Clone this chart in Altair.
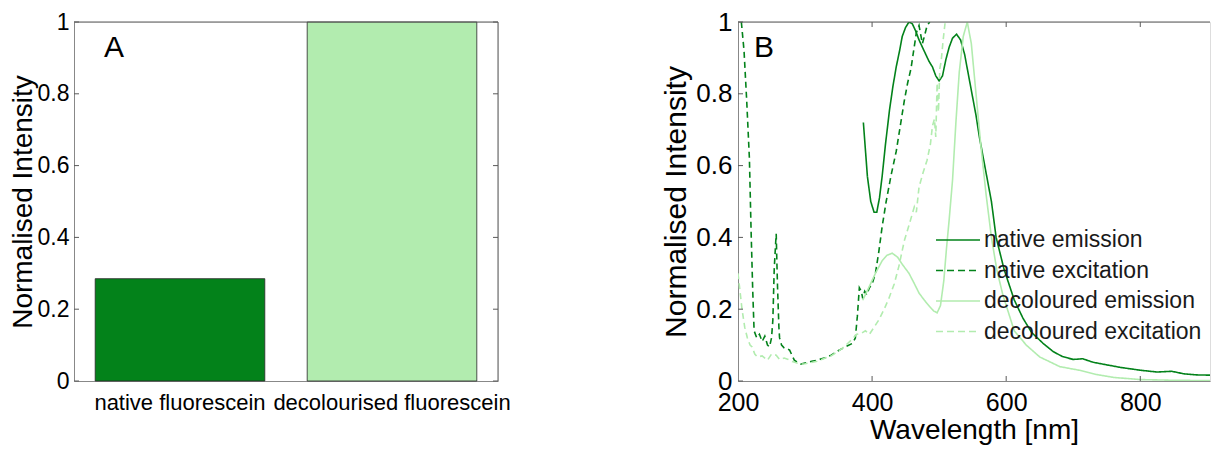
import altair as alt
import pandas as pd

FONT = "Liberation Sans"
TXT = "#262626"
AXC = "#5a5a5a"
DARK = "#03821a"
LIGHT = "#b2ecaf"

# ---------------- Panel A data ----------------
bar_categories = ["native fluorescein", "decolourised fluorescein"]
bar_values = [0.285, 1.0]
bar_colors = [DARK, LIGHT]

# ---------------- Panel B data ----------------
nat_em_nm = [387, 393, 398, 403, 407, 411, 415, 420, 426, 431, 436, 441, 445, 450, 455,
             460, 465, 470, 475, 480, 485, 490, 495, 500, 505, 510, 515, 520, 526, 532,
             538, 545, 550, 555, 560, 565, 570, 578, 585, 597, 612, 625, 638, 655, 670,
             684, 700, 714, 730, 750, 770, 800, 825, 847, 865, 884, 913]
nat_em_int = [0.72, 0.57, 0.50, 0.47, 0.47, 0.51, 0.57, 0.66, 0.755, 0.82, 0.875, 0.92, 0.96, 0.985, 1.0,
              0.995, 0.975, 0.95, 0.93, 0.91, 0.89, 0.875, 0.85, 0.836, 0.85, 0.895, 0.93, 0.955, 0.966, 0.95,
              0.91, 0.84, 0.79, 0.74, 0.68, 0.63, 0.58, 0.50, 0.40, 0.31, 0.226, 0.175, 0.135, 0.105, 0.082,
              0.068, 0.06, 0.062, 0.052, 0.045, 0.038, 0.03, 0.025, 0.027, 0.02, 0.017, 0.016]

nat_ex_nm = [205, 209, 213, 217, 219.5, 222, 224, 228, 232, 236, 240, 244, 247, 250, 252,
             254, 256, 257, 258, 259, 261, 262, 265, 269, 273, 277, 281, 284, 290, 294,
             300, 310, 318, 330, 339, 350, 360, 371, 375, 378, 381, 384, 386, 389, 392,
             396, 400, 405, 410, 415, 421, 428, 436, 442, 448, 453, 458, 462, 466, 470,
             473, 475, 478, 482, 486]
nat_ex_int = [1.0, 0.92, 0.78, 0.62, 0.42, 0.25, 0.14, 0.12, 0.13, 0.11, 0.125, 0.10, 0.095, 0.12, 0.17,
              0.31, 0.38, 0.41, 0.33, 0.26, 0.15, 0.12, 0.10, 0.092, 0.09, 0.086, 0.07, 0.058, 0.05, 0.047,
              0.05, 0.055, 0.058, 0.065, 0.072, 0.085, 0.095, 0.105, 0.12, 0.18, 0.26, 0.25, 0.23, 0.25, 0.24,
              0.26, 0.27, 0.30, 0.36, 0.43, 0.50, 0.57, 0.64, 0.71, 0.78, 0.83, 0.87, 0.92, 0.97, 0.99,
              0.96, 0.94, 0.96, 0.99, 1.0]

dec_em_nm = [386, 395, 405, 415, 422, 430, 438, 445, 455, 462, 470, 478, 486, 492, 497,
             502, 507, 511, 515, 520, 525, 530, 536, 542, 548, 555, 562, 570, 578, 586,
             595, 612, 630, 650, 680, 709, 735, 760, 800, 850, 913]
dec_em_int = [0.225, 0.26, 0.30, 0.335, 0.35, 0.356, 0.345, 0.325, 0.30, 0.275, 0.245, 0.225, 0.207, 0.195, 0.19,
              0.21, 0.28, 0.37, 0.45, 0.56, 0.72, 0.86, 0.96, 1.0, 0.94, 0.80, 0.66, 0.52, 0.40, 0.31,
              0.24, 0.14, 0.10, 0.067, 0.04, 0.03, 0.018, 0.01, 0.004, 0.002, 0.001]

dec_ex_nm = [200, 203, 206, 210, 214, 218, 221, 225, 229, 236, 244, 250, 257, 262, 269,
             275, 281, 288, 294, 300, 318, 339, 355, 369, 377, 384, 390, 396, 403, 410,
             418, 425, 433, 440, 448, 456, 463, 466, 470, 476, 482, 487, 490, 493, 495,
             497, 499, 501, 503, 506, 509]
dec_ex_int = [0.30, 0.25, 0.20, 0.15, 0.12, 0.10, 0.095, 0.075, 0.067, 0.07, 0.058, 0.075, 0.072, 0.06, 0.064,
              0.06, 0.054, 0.05, 0.047, 0.048, 0.055, 0.07, 0.09, 0.114, 0.13, 0.133, 0.14, 0.13, 0.15, 0.17,
              0.20, 0.23, 0.27, 0.32, 0.39, 0.44, 0.485, 0.47, 0.54, 0.58, 0.615, 0.66, 0.71, 0.73, 0.68,
              0.83, 0.75, 0.87, 0.89, 0.95, 1.0]

series_names = ["native emission", "native excitation", "decoloured emission", "decoloured excitation"]
series_colors = [DARK, DARK, LIGHT, LIGHT]
series_dash = [[1, 0], [6, 4], [1, 0], [6, 4]]
legend_dash = [[1, 0], [7, 4], [1, 0], [7, 4]]

y_ticks = [0, 0.2, 0.4, 0.6, 0.8, 1.0]
x_ticks_b = [200, 400, 600, 800]
x_domain_b = [200, 904]

# ---------------- build tables ----------------
df_bar = pd.DataFrame({"category": bar_categories, "value": bar_values})

rows = []
for name, xs, ys in zip(series_names,
                        [nat_em_nm, nat_ex_nm, dec_em_nm, dec_ex_nm],
                        [nat_em_int, nat_ex_int, dec_em_int, dec_ex_int]):
    for i, (xv, yv) in enumerate(zip(xs, ys)):
        rows.append({"nm": xv, "intensity": yv, "series": name, "idx": i})
df_lines = pd.DataFrame(rows)

df_yt = pd.DataFrame({"v": y_ticks})
df_xt = pd.DataFrame({"v": x_ticks_b[1:]})
one = pd.DataFrame({"t": ["x"]})

WA, HA = 424, 359
WB, HB = 472, 359
TICK = 5

yscale = alt.Scale(domain=[0, 1], nice=False, zero=False)
xscaleB = alt.Scale(domain=x_domain_b, nice=False, zero=False)

# ---------------- Panel A ----------------
yA = alt.Y("value:Q", scale=yscale,
           axis=alt.Axis(values=y_ticks, format="~g", title="Normalised Intensity",
                         labelFontSize=23, titleFontSize=28, labelPadding=5, titlePadding=0,
                         labelFlush=False, titleFontWeight="normal", ticks=False, grid=False))
bars = alt.Chart(df_bar).mark_bar(stroke="#262626", strokeWidth=0.8).encode(
    x=alt.X("category:N", sort=bar_categories,
            scale=alt.Scale(paddingInner=0.2, paddingOuter=0.1),
            axis=alt.Axis(title=None, labelAngle=0, ticks=False, labelFontSize=22,
                          labelPadding=11, labelLimit=400, grid=False)),
    y=yA,
    color=alt.Color("category:N", scale=alt.Scale(domain=bar_categories, range=bar_colors),
                    legend=None),
)
a_top = alt.Chart(one).mark_rule(color=AXC, strokeWidth=1).encode(y=alt.value(0))
a_right = alt.Chart(one).mark_rule(color=AXC, strokeWidth=1).encode(x=alt.value(WA))
a_lt = alt.Chart(df_yt).mark_rule(color=AXC, strokeWidth=1).encode(
    y=alt.Y("v:Q", scale=yscale), x=alt.value(0), x2=alt.value(TICK))
a_rt = alt.Chart(df_yt).mark_rule(color=AXC, strokeWidth=1).encode(
    y=alt.Y("v:Q", scale=yscale), x=alt.value(WA - TICK), x2=alt.value(WA))
a_lab = alt.Chart(one).mark_text(text="A", fontSize=30, font=FONT, color="black",
                                 align="center", baseline="middle").encode(
    x=alt.value(40), y=alt.value(26))
panelA = alt.layer(bars, a_lt, a_rt, a_top, a_right, a_lab).properties(width=WA, height=HA)

# ---------------- Panel B ----------------
lines = alt.Chart(df_lines).mark_line(strokeWidth=1.6, clip=True).encode(
    x=alt.X("nm:Q", scale=xscaleB,
            axis=alt.Axis(values=x_ticks_b, format="d", title="Wavelength [nm]",
                          labelFontSize=25, titleFontSize=28, labelPadding=9, titlePadding=1,
                          labelFlush=False, titleFontWeight="normal", ticks=False, grid=False)),
    y=alt.Y("intensity:Q", scale=yscale,
            axis=alt.Axis(values=y_ticks, format="~g", title="Normalised Intensity",
                          labelFontSize=26, titleFontSize=30, labelPadding=6, titlePadding=4,
                          labelFlush=False, titleFontWeight="normal", ticks=False, grid=False)),
    color=alt.Color("series:N", scale=alt.Scale(domain=series_names, range=series_colors), legend=None),
    strokeDash=alt.StrokeDash("series:N", scale=alt.Scale(domain=series_names, range=series_dash),
                              legend=None),
    order="idx:Q",
)
b_top = alt.Chart(one).mark_rule(color=AXC, strokeWidth=1).encode(y=alt.value(0))
b_lt = alt.Chart(df_yt).mark_rule(color=AXC, strokeWidth=1).encode(
    y=alt.Y("v:Q", scale=yscale), x=alt.value(0), x2=alt.value(TICK))
b_bt = alt.Chart(df_xt).mark_rule(color=AXC, strokeWidth=1).encode(
    x=alt.X("v:Q", scale=xscaleB), y=alt.value(HB - TICK), y2=alt.value(HB))
b_tt = alt.Chart(df_xt).mark_rule(color=AXC, strokeWidth=1).encode(
    x=alt.X("v:Q", scale=xscaleB), y=alt.value(0), y2=alt.value(TICK))
b_lab = alt.Chart(one).mark_text(text="B", fontSize=30, font=FONT, color="black",
                                 align="center", baseline="middle").encode(
    x=alt.value(26), y=alt.value(26))

# legend (drawn as a small key inside panel B)
LEG_X0, LEG_X1, LEG_Y0, LEG_DY = 198, 242, 218, 30.5
legend_layers = []
for k, name in enumerate(series_names):
    yk = LEG_Y0 + k * LEG_DY
    legend_layers.append(
        alt.Chart(one).mark_rule(color=series_colors[k], strokeWidth=1.6,
                                 strokeDash=legend_dash[k]).encode(
            x=alt.value(LEG_X0), x2=alt.value(LEG_X1), y=alt.value(yk)))
    legend_layers.append(
        alt.Chart(one).mark_text(text=name, fontSize=23, font=FONT, color="#1a1a1a",
                                 align="left", baseline="middle").encode(
            x=alt.value(LEG_X1 + 4), y=alt.value(yk)))

panelB = alt.layer(lines, b_lt, b_bt, b_tt, b_top, b_lab, *legend_layers).properties(
    width=WB, height=HB)

chart = alt.hconcat(panelA, panelB, spacing=150).resolve_scale(
    color="independent", strokeDash="independent", x="independent", y="independent"
).properties(
    padding={"left": 0, "top": 0, "right": 0, "bottom": 0}
).configure_view(strokeWidth=0).configure_axis(
    domainColor=AXC, domainWidth=1, labelColor=TXT, titleColor=TXT,
    labelFont=FONT, titleFont=FONT, titleFontWeight="normal"
).configure(background="white")

chart.save("out.html", embed_options={"renderer": "svg", "actions": False})
